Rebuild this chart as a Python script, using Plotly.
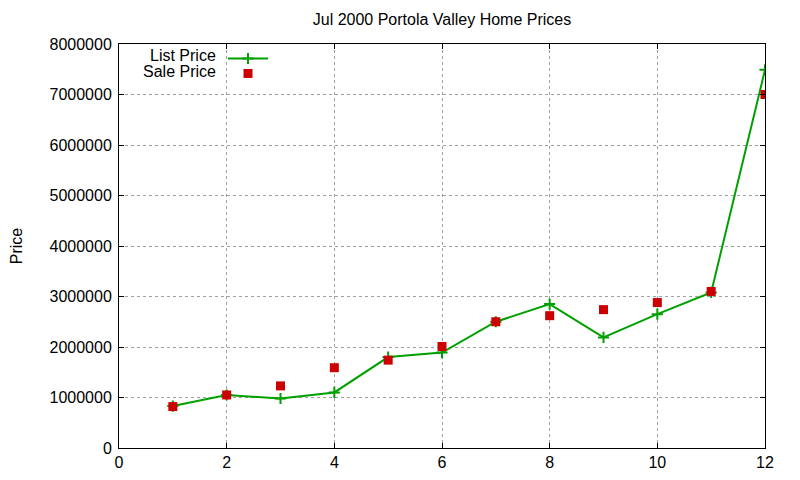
import plotly.graph_objects as go

# house index (sorted by list price), prices
house = [1, 2, 3, 4, 5, 6, 7, 8, 9, 10, 11, 12]
list_price = [830000, 1050000, 980000, 1100000, 1800000, 1890000,
              2500000, 2850000, 2190000, 2650000, 3080000, 7490000]
sale_price = [820000, 1050000, 1230000, 1590000, 1740000, 2010000,
              2500000, 2620000, 2740000, 2880000, 3100000, 7000000]

x_ticks = [0, 2, 4, 6, 8, 10, 12]
y_ticks = [0, 1000000, 2000000, 3000000, 4000000, 5000000, 6000000, 7000000, 8000000]

FONT = "Liberation Sans, Arial, sans-serif"
GREEN = "#00a000"
RED = "#cc0000"

fig = go.Figure()
fig.add_trace(go.Scatter(
    x=house, y=list_price, mode="lines+markers", name=" ", legend="legend",
    line=dict(color=GREEN, width=2),
    marker=dict(symbol="cross-thin", size=8, line=dict(color=GREEN, width=2)),
))
fig.add_trace(go.Scatter(
    x=house, y=sale_price, mode="markers", name=" ", legend="legend2",
    marker=dict(symbol="square", size=9, color=RED),
))

axis_common = dict(
    showline=True, linecolor="black", linewidth=1, mirror="ticks",
    ticks="inside", ticklen=5, tickcolor="black", automargin=False,
    showgrid=True, gridcolor="#a0a0a0", griddash="dot", gridwidth=1,
    zeroline=False, tickfont=dict(family=FONT, size=16, color="black"),
)

fig.update_xaxes(range=[0, 12], tickvals=x_ticks, **axis_common)
fig.update_yaxes(range=[0, 8000000], tickvals=y_ticks, tickformat="d",
                 ticklabelstandoff=3,
                 title=dict(text="Price", font=dict(family=FONT, size=16, color="black"),
                            standoff=31),
                 **axis_common)

# gnuplot style legend: text sits to the left of the sample
fig.add_annotation(text="List Price", x=0.153, y=0.972, xref="paper", yref="paper",
                   xanchor="right", yanchor="middle", showarrow=False,
                   font=dict(family=FONT, size=16, color="black"))
fig.add_annotation(text="Sale Price", x=0.153, y=0.933, xref="paper", yref="paper",
                   xanchor="right", yanchor="middle", showarrow=False,
                   font=dict(family=FONT, size=16, color="black"))

legend_style = dict(xanchor="left", yanchor="top", bgcolor="rgba(0,0,0,0)",
                    borderwidth=0, itemwidth=40, font=dict(family=FONT, size=10))

# page has an 8px body margin, so the figure is a bit smaller than the window
fig.update_layout(
    width=792, height=472,
    margin=dict(l=111, r=35, t=36, b=32),
    paper_bgcolor="white", plot_bgcolor="white",
    title=dict(text="Jul 2000 Portola Valley Home Prices", x=0.5, xref="paper",
               xanchor="center", y=0.975, yanchor="middle",
               font=dict(family=FONT, size=16, color="black")),
    legend=dict(x=0.161, y=1.0, **legend_style),
    legend2=dict(x=0.161, y=0.963, **legend_style),
    showlegend=True,
)

fig.write_html("out.html")
